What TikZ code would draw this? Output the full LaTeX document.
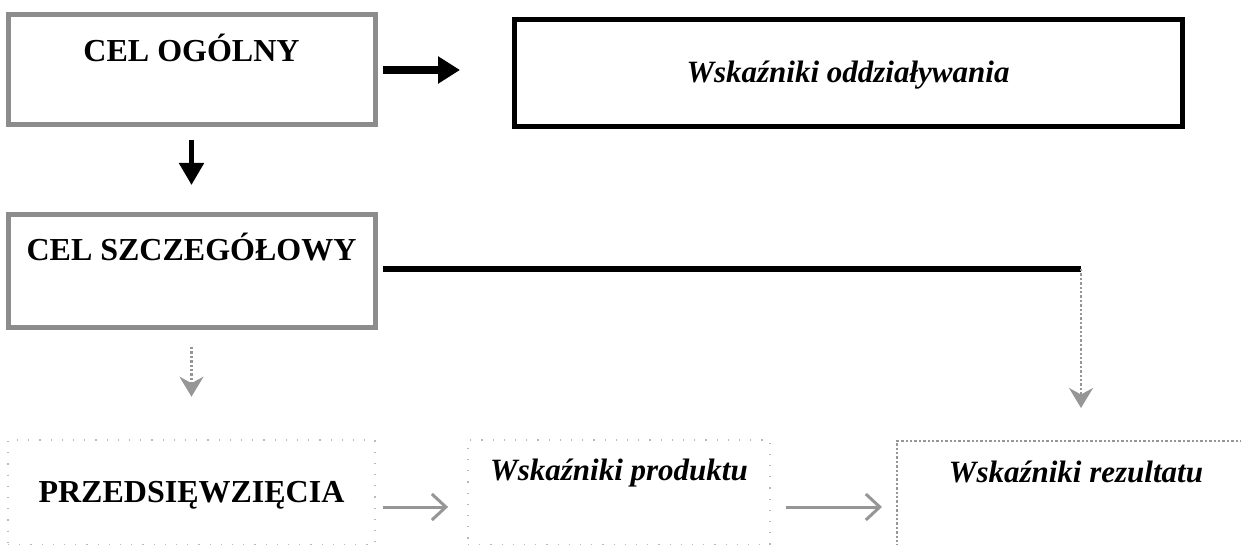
\documentclass[tikz,border=0pt]{standalone}
\usepackage{fontspec}
\setmainfont{Liberation Serif}
\usepackage{tikz}
\usetikzlibrary{positioning, arrows.meta, calc}
\definecolor{FrameGray}{RGB}{140,140,140}
\definecolor{FaintGray}{RGB}{185,185,185}
\definecolor{PaleGray}{RGB}{150,150,150}
\newcommand{\goaltext}[1]{{\fontsize{16}{19}\selectfont\textbf{#1}}}
\newcommand{\indtext}[1]{{\fontsize{15.5}{18}\selectfont\textbf{\textit{#1}}}}
\tikzstyle{bold arrow} = [line width=4pt, black, -{Triangle[length=11pt,width=13pt]}]
\tikzset{
  goal box/.style={rectangle, draw=FrameGray, line width=2.5pt, inner sep=0pt, minimum width=183.5pt},
  impact box/.style={rectangle, draw=black, line width=2.5pt, inner sep=0pt, minimum width=334pt},
  faint box/.style={rectangle, draw=FaintGray, line width=0.7pt, dash pattern=on 0.6pt off 5pt, inner sep=0pt},
  result box/.style={rectangle, draw=PaleGray, line width=1.2pt, densely dotted, inner sep=0pt},
  down arrow/.style={line width=2.5pt, black, -{Triangle[length=11pt,width=12pt]}},
  link bar/.style={line width=3pt, black},
  dotted arrow/.style={densely dotted, line width=1.2pt, PaleGray, -{Stealth[length=10pt,width=12pt]}},
  flow arrow/.style={line width=1.5pt, PaleGray, -{Straight Barb[length=7pt,width=13pt]}}
}
\begin{document}
\begin{tikzpicture}[x=0.5pt, y=-0.5pt]
  \useasboundingbox (0,0) rectangle (1241,545);

  % Goals
  \node[goal box, text height=23.5pt, text depth=31.5pt] (ogolny) at (191.5,70) {\goaltext{CEL OGÓLNY}};
  \node[goal box, text height=22.5pt, text depth=33.5pt] (szczeg) at (191.5,271) {\goaltext{CEL SZCZEGÓŁOWY}};

  % Impact indicators
  \node[impact box, text height=31.5pt, text depth=22pt] (oddz) at (848,73.5) {\indtext{Wskaźniki oddziaływania}};

  % Bottom row
  \node[faint box, minimum width=183.5pt, text height=31pt, text depth=21.5pt] (przed) at (191.5,492.5) {\goaltext{PRZEDSIĘWZIĘCIA}};
  \node[faint box, minimum width=151pt, text height=20pt, text depth=32.5pt] (prod) at (619,492.5) {\indtext{Wskaźniki produktu}};
  \node[result box, minimum width=179pt, text height=20.5pt, text depth=34pt] (rez) at (1076,495.5) {\indtext{Wskaźniki rezultatu}};

  % Arrows between goals
  \draw[bold arrow, shorten <=2.75pt, shorten >=25.75pt] (ogolny.east) -- (ogolny.east -| oddz.west);
  \draw[down arrow, shorten <=6.25pt, shorten >=13.75pt] (ogolny.south) -- (szczeg.north);
  \draw[dotted arrow, shorten <=8.75pt, shorten >=21.3pt] (szczeg.south) -- (przed.north);

  % Link to result indicators
  \coordinate (bend) at (1081,269);
  \draw[link bar, shorten <=2.75pt] (szczeg.east |- bend) -- (bend);
  \draw[dotted arrow, shorten >=15.9pt] (bend) -- (bend |- rez.north);

  % Flow along bottom row
  \draw[flow arrow, shorten <=3.6pt, shorten >=9.6pt] ([yshift=-7.25pt]przed.east) -- ([yshift=-7.25pt]przed.east -| prod.west);
  \draw[flow arrow, shorten <=7.6pt, shorten >=6.9pt] ([yshift=-7.25pt]prod.east) -- ([yshift=-7.25pt]prod.east -| rez.west);
\end{tikzpicture}
\end{document}
